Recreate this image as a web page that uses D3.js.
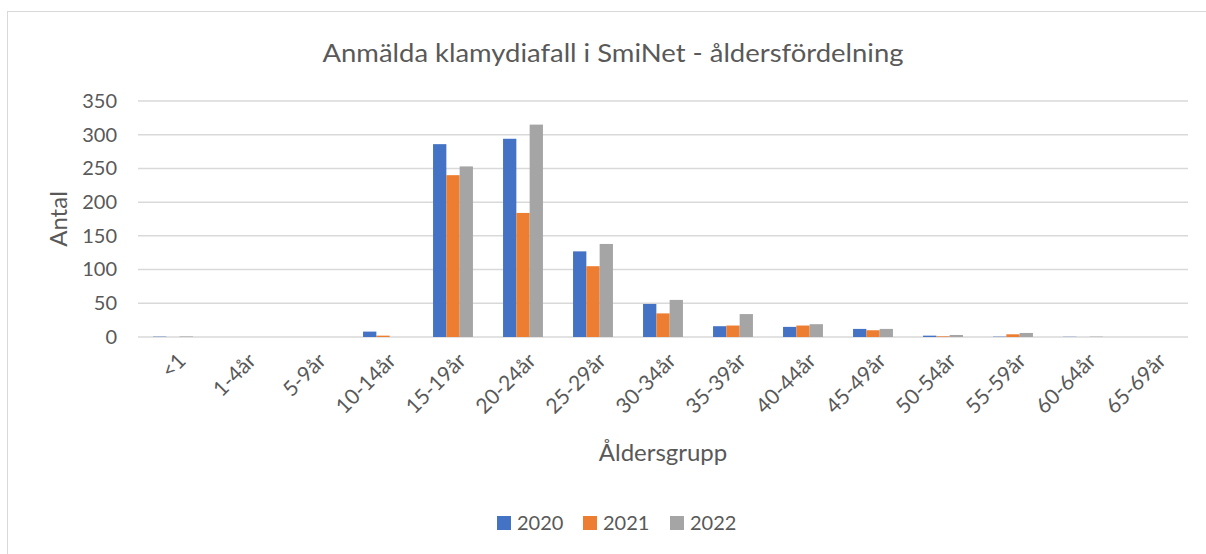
<!DOCTYPE html>
<html><head><meta charset="utf-8">
<script src="https://cdn.jsdelivr.net/npm/d3@7"></script>
<style>body{margin:0;background:#fff;} text{font-family:Lato,"Open Sans",sans-serif;fill:#595959;}</style>
</head><body><svg id="c" width="1206" height="554"></svg>
<script>
const categories = ["<1","1-4år","5-9år","10-14år","15-19år","20-24år","25-29år","30-34år","35-39år","40-44år","45-49år","50-54år","55-59år","60-64år","65-69år"];
const years = ["2020","2021","2022"];
const v2020 = [0.5,0,0,8,286,294,127,49,16,15,12,2,0.5,0.3,0];
const v2021 = [0,0,0,2,240,184,105,35,17,17,10,1,4,0,0];
const v2022 = [0.8,0,0,0,253,315,138,55,34,19,12,3,6,0.5,0];
const yTicks = [0,50,100,150,200,250,300,350];
const colors = ["#4472C4","#ED7D31","#A5A5A5"];
const series = [v2020,v2021,v2022];

const svg = d3.select("#c");
svg.append("rect").attr("x",7.5).attr("y",11.5).attr("width",1300).attr("height",700)
  .attr("fill","#fff").attr("stroke","#d9d9d9").attr("stroke-width",1);

const L=138, R=1188, T=101, B=337;
const x0 = d3.scaleBand().domain(categories).range([L,R]).paddingInner(0.43).paddingOuter(0.215);
const x1 = d3.scaleBand().domain(years).range([0,x0.bandwidth()]);
const y = d3.scaleLinear().domain([0,350]).range([B,T]);

// gridlines
svg.append("g").selectAll("line").data(yTicks).join("line")
  .attr("x1",L).attr("x2",R).attr("y1",d=>y(d)).attr("y2",d=>y(d))
  .attr("stroke","#d9d9d9").attr("stroke-width",1.5);

// y axis labels
const ya = svg.append("g").attr("transform",`translate(${L-21},0)`)
  .call(d3.axisLeft(y).tickValues(yTicks).tickSize(0).tickPadding(0));
ya.select(".domain").remove();
ya.selectAll("text").style("font-size","20px").attr("fill","#595959").style("font-family","Lato, sans-serif");

// bars
series.forEach((s,i)=>{
  svg.append("g").selectAll("rect").data(s).join("rect")
    .attr("x",(d,j)=>x0(categories[j])+x1(years[i]))
    .attr("width",x1.bandwidth())
    .attr("y",d=>y(d)).attr("height",d=>B-y(d))
    .attr("fill",colors[i]);
});

// x labels
const xa = svg.append("g").attr("transform",`translate(0,${B})`)
  .call(d3.axisBottom(x0).tickSize(0).tickPadding(0));
xa.select(".domain").remove();
xa.selectAll("text").attr("text-anchor","end").attr("dy","0.35em")
  .attr("transform","translate(9,20) rotate(-45)")
  .style("font-size","21px").attr("fill","#595959").style("font-family","Lato, sans-serif");

// title
svg.append("text").attr("x",613).attr("y",62).attr("text-anchor","middle")
  .attr("textLength",581).attr("lengthAdjust","spacingAndGlyphs")
  .style("font-size","25px").text("Anmälda klamydiafall i SmiNet - åldersfördelning");
// axis titles
svg.append("text").attr("transform","translate(67,219) rotate(-90)").attr("text-anchor","middle")
  .style("font-size","24px").text("Antal");
svg.append("text").attr("x",663).attr("y",461).attr("text-anchor","middle")
  .style("font-size","24px").text("Åldersgrupp");

// legend
const lg = svg.append("g");
const lx = [497,583,670];
years.forEach((yy,i)=>{
  lg.append("rect").attr("x",lx[i]).attr("y",516).attr("width",14).attr("height",14).attr("fill",colors[i]);
  lg.append("text").attr("x",lx[i]+20).attr("y",530).style("font-size","20px").text(yy);
});
</script></body></html>
